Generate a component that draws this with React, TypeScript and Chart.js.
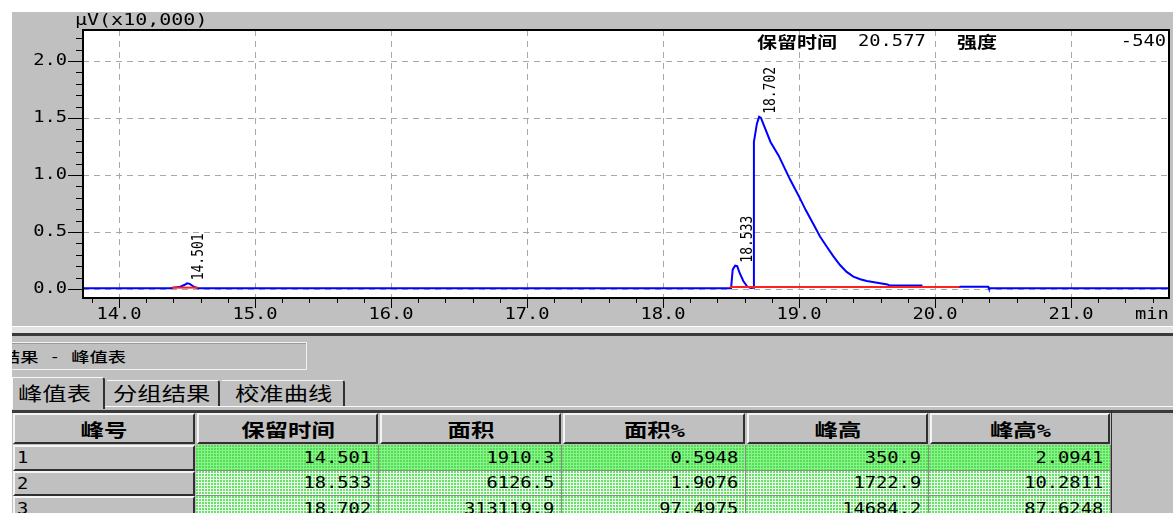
import React, { useEffect, useRef } from "react";
import { Chart, registerables } from "chart.js";

Chart.register(...registerables);

// Detector trace: retention time (min) and signal (µV ×10,000)
const traceTime = [
  13.735, 14.38, 14.4, 14.45, 14.48, 14.5, 14.52, 14.55, 14.58, 18.5, 18.512, 18.53, 18.545, 18.56,
  18.59, 18.62, 18.645, 18.663, 18.668, 18.69, 18.706, 18.72, 18.74, 18.79, 18.85, 18.934, 19.0,
  19.05, 19.105, 19.154, 19.204, 19.25, 19.301, 19.35, 19.399, 19.45, 19.498, 19.596, 19.65, 19.66,
  19.9, 19.905, 20.18, 20.185, 20.39, 20.395, 21.72,
];
const traceSignal = [
  0.006, 0.006, 0.012, 0.02, 0.035, 0.05, 0.045, 0.02, 0.006, 0.006, 0.17, 0.205, 0.2, 0.15,
  0.07, 0.02, 0.008, 0.01, 1.29, 1.45, 1.51, 1.5, 1.44, 1.29, 1.17, 0.96, 0.81,
  0.69, 0.57, 0.46, 0.37, 0.29, 0.21, 0.15, 0.108, 0.085, 0.07, 0.05, 0.04, 0.033,
  0.03, 0.017, 0.017, 0.02, 0.02, 0.006, 0.006,
];

// Integration baselines (red)
const baselineStart = [14.39, 18.49];
const baselineEnd = [14.58, 20.18];
const baselineLevel = [0.012, 0.018];

// Peak annotations
const peakTimes = [14.501, 18.533, 18.702];
const peakApex = [0.05, 0.205, 1.51];

// Axes
const xMajorTicks = [14, 15, 16, 17, 18, 19, 20, 21];
const yMajorTicks = [0, 0.5, 1, 1.5, 2];
const X_MIN = 13.735;
const X_MAX = 21.72;
const Y_MIN = -0.079;
const Y_MAX = 2.272;

// Cursor readout
const cursorTime = 20.577;
const cursorIntensity = -540;

// Peak table
const tableHeaders = ["峰号", "保留时间", "面积", "面积%", "峰高", "峰高%"];
const peakNo = [1, 2, 3];
const retTime = [14.501, 18.533, 18.702];
const area = [1910.3, 6126.5, 313119.9];
const areaPct = [0.5948, 1.9076, 97.4975];
const peakHeight = [350.9, 1722.9, 14684.2];
const heightPct = [2.0941, 10.2811, 87.6248];

const tabs = ["峰值表", "分组结果", "校准曲线"];

const MONO = "'DejaVu Sans Mono', 'Noto Sans CJK SC', monospace";
const CJK = "'Noto Sans CJK SC', 'DejaVu Sans', sans-serif";
const SX = 1.25;

function wideText(
  ctx: CanvasRenderingContext2D,
  text: string,
  x: number,
  y: number,
  font: string,
  align: "left" | "center" | "right" = "left",
  k = SX
) {
  ctx.save();
  ctx.font = font;
  ctx.fillStyle = "#000";
  ctx.textBaseline = "middle";
  ctx.textAlign = "left";
  const w = ctx.measureText(text).width * k;
  let x0 = x;
  if (align === "center") x0 = x - w / 2;
  if (align === "right") x0 = x - w;
  ctx.translate(x0, y);
  ctx.scale(k, 1);
  ctx.fillText(text, 0, 0);
  ctx.restore();
}

const framePlugin = {
  id: "chromFrame",
  beforeDatasetsDraw(chart: any) {
    const { ctx, chartArea: a } = chart;
    const xs = chart.scales.x;
    const ys = chart.scales.y;
    ctx.save();
    ctx.fillStyle = "#c0c0c0";
    ctx.fillRect(0, 0, chart.width, chart.height);
    ctx.fillStyle = "#ffffff";
    ctx.fillRect(a.left, a.top, a.right - a.left, a.bottom - a.top);
    ctx.strokeStyle = "#a8a8a8";
    ctx.lineWidth = 1;
    ctx.setLineDash([6, 5]);
    for (const v of yMajorTicks) {
      const y = Math.round(ys.getPixelForValue(v)) + 0.5;
      ctx.beginPath();
      ctx.moveTo(a.left, y);
      ctx.lineTo(a.right, y);
      ctx.stroke();
    }
    for (const v of xMajorTicks) {
      const x = Math.round(xs.getPixelForValue(v)) + 0.5;
      ctx.beginPath();
      ctx.moveTo(x, a.top);
      ctx.lineTo(x, a.bottom);
      ctx.stroke();
    }
    ctx.restore();
  },
  afterDatasetsDraw(chart: any) {
    const { ctx, chartArea: a } = chart;
    const xs = chart.scales.x;
    const ys = chart.scales.y;
    ctx.save();
    ctx.setLineDash([]);

    // plot frame
    ctx.strokeStyle = "#000";
    ctx.lineWidth = 2;
    ctx.strokeRect(a.left, a.top, a.right - a.left, a.bottom - a.top);

    // y ticks
    ctx.lineWidth = 1;
    for (let i = 0; i <= 22; i++) {
      const v = i / 10;
      const y = Math.round(ys.getPixelForValue(v)) + 0.5;
      const major = i % 5 === 0;
      ctx.beginPath();
      ctx.moveTo(a.left - (major ? 15 : 7), y);
      ctx.lineTo(a.left, y);
      ctx.stroke();
    }
    for (const v of yMajorTicks) {
      wideText(ctx, v.toFixed(1), a.left - 16, ys.getPixelForValue(v), `15px ${MONO}`, "right");
    }

    // x ticks
    for (let i = 69; i <= 108; i++) {
      const v = i / 5;
      const x = Math.round(xs.getPixelForValue(v)) + 0.5;
      const major = i % 5 === 0;
      ctx.beginPath();
      ctx.moveTo(x, a.bottom);
      ctx.lineTo(x, a.bottom + (major ? 10 : 5));
      ctx.stroke();
    }
    for (const v of xMajorTicks) {
      wideText(ctx, v.toFixed(1), xs.getPixelForValue(v), a.bottom + 17, `15px ${MONO}`, "center");
    }
    wideText(ctx, "min", a.right - 34, a.bottom + 17, `15px ${MONO}`, "left");

    // axis title
    wideText(ctx, "μV(x10,000)", a.left - 8, a.top - 9, `16px ${MONO}`, "left");

    // cursor readout
    const ry = a.top + 12;
    wideText(ctx, "保留时间", a.left + 674, ry, `600 16px ${CJK}`, "left");
    wideText(ctx, cursorTime.toFixed(3), a.left + 775, ry, `15px ${MONO}`, "left");
    wideText(ctx, "强度", a.left + 874, ry, `600 16px ${CJK}`, "left");
    wideText(ctx, String(cursorIntensity), a.right - 3, ry, `15px ${MONO}`, "right");

    // peak labels, rotated
    ctx.font = `13px ${MONO}`;
    ctx.fillStyle = "#000";
    peakTimes.forEach((t, i) => {
      const x = xs.getPixelForValue(t) + 12;
      const y = ys.getPixelForValue(peakApex[i]) - 3;
      ctx.save();
      ctx.translate(x, y);
      ctx.scale(SX, 1);
      ctx.rotate(-Math.PI / 2);
      ctx.textAlign = "left";
      ctx.textBaseline = "middle";
      ctx.fillText(t.toFixed(3), 0, 0);
      ctx.restore();
    });
    ctx.restore();
  },
};

function Wide({ k = SX, origin = "left", children, style }: any) {
  return (
    <span
      style={{
        display: "inline-block",
        whiteSpace: "nowrap",
        transform: `scaleX(${k})`,
        transformOrigin: `${origin} center`,
        ...style,
      }}
    >
      {children}
    </span>
  );
}

// dotted cell fill: a small green dot on every 3×3 pixel tile
const dotFill = (dot: string) => `radial-gradient(circle at 1px 1px, ${dot} 0.9px, transparent 1.2px)`;

const colX = [12, 196, 379, 562, 746, 929, 1111];
const rowY = [445, 471, 496, 522];

export default function App() {
  const canvasRef = useRef<HTMLCanvasElement | null>(null);

  useEffect(() => {
    const canvas = canvasRef.current;
    if (!canvas) return;
    const trace = traceTime.map((t, i) => ({ x: t, y: traceSignal[i] }));
    const baselines = baselineStart.map((s, i) => ({
      data: [
        { x: s, y: baselineLevel[i] },
        { x: baselineEnd[i], y: baselineLevel[i] },
      ],
      borderColor: "#ff2020",
      borderWidth: 2,
      pointRadius: 0,
      order: 0,
    }));
    const chart = new Chart(canvas, {
      type: "line",
      data: {
        datasets: [
          ...baselines,
          {
            data: trace,
            borderColor: "#0000ff",
            borderWidth: 2,
            pointRadius: 0,
            tension: 0,
            order: 1,
          },
        ],
      },
      options: {
        animation: false,
        responsive: false,
        devicePixelRatio: 1,
        layout: { padding: { left: 71, top: 18, right: 4, bottom: 27 } },
        scales: {
          x: { type: "linear", min: X_MIN, max: X_MAX, display: false },
          y: { type: "linear", min: Y_MIN, max: Y_MAX, display: false },
        },
        plugins: { legend: { display: false }, tooltip: { enabled: false } },
      },
      plugins: [framePlugin],
    } as any);
    return () => chart.destroy();
  }, []);

  const columns = [
    retTime.map((v) => v.toFixed(3)),
    area.map((v) => v.toFixed(1)),
    areaPct.map((v) => v.toFixed(4)),
    peakHeight.map((v) => v.toFixed(1)),
    heightPct.map((v) => v.toFixed(4)),
  ];

  const bevel = {
    boxSizing: "border-box" as const,
    background: "#c0c0c0",
    borderTop: "2px solid #f4f4f4",
    borderLeft: "2px solid #f4f4f4",
    borderRight: "2px solid #303030",
    borderBottom: "2px solid #303030",
  };

  return (
    <div
      style={{
        position: "fixed",
        left: 0,
        top: 0,
        width: 1173,
        height: 513,
        overflow: "hidden",
        background: "#fff",
      }}
    >
      <canvas
        ref={canvasRef}
        width={1161}
        height={313}
        style={{ position: "absolute", left: 12, top: 12, width: 1161, height: 313 }}
      />
      {/* lower panel */}
      <div style={{ position: "absolute", left: 12, top: 325, width: 1161, height: 188, background: "#c0c0c0" }} />
      <div style={{ position: "absolute", left: 12, top: 326, width: 1161, height: 7, background: "#e2e2e2", borderTop: "1px solid #fff", boxSizing: "border-box" }} />
      <div style={{ position: "absolute", left: 12, top: 333, width: 1161, height: 3, background: "#3a3a3a" }} />

      {/* result title box */}
      <div
        style={{
          position: "absolute",
          left: 12,
          top: 342,
          width: 295,
          height: 28,
          boxSizing: "border-box",
          borderTop: "1px solid #f2f2f2",
          borderRight: "1px solid #f2f2f2",
          borderBottom: "1px solid #f2f2f2",
          boxShadow: "inset 0 1px 0 #9a9a9a",
          overflow: "hidden",
        }}
      >
        <div style={{ position: "absolute", left: -10, top: 0, height: 26, display: "flex", alignItems: "center" }}>
          <Wide k={1.3} style={{ font: `500 14px ${MONO}`, color: "#000" }}>
            结果 - 峰值表
          </Wide>
        </div>
      </div>

      {/* tabs */}
      {tabs.map((t, i) => {
        const left = [12, 107, 222][i];
        const right = [105, 220, 345][i];
        const top = i === 0 ? 377 : 380;
        return (
          <div
            key={t}
            style={{
              position: "absolute",
              left,
              top,
              width: right - left,
              height: (i === 0 ? 409 : 406) - top,
              boxSizing: "border-box",
              borderTop: "1px solid #f8f8f8",
              borderLeft: i === 0 ? "1px solid #f8f8f8" : "none",
              borderRight: "2px solid #303030",
              borderTopRightRadius: 3,
              background: "#c0c0c0",
              display: "flex",
              alignItems: "center",
              paddingLeft: [5, 6, 13][i],
              zIndex: 2,
            }}
          >
            <Wide k={1.28} style={{ font: `19px ${CJK}`, color: "#000", marginTop: -2 }}>
              {t}
            </Wide>
          </div>
        );
      })}
      <div style={{ position: "absolute", left: 105, top: 406, width: 1068, height: 1, background: "#fafafa" }} />
      <div style={{ position: "absolute", left: 12, top: 410, width: 1161, height: 3, background: "#3a3a3a" }} />

      {/* table header */}
      {tableHeaders.map((h, i) => (
        <div
          key={h}
          style={{
            ...bevel,
            position: "absolute",
            left: colX[i] + 1,
            top: 413,
            width: colX[i + 1] - colX[i] - 2,
            height: 31,
            display: "flex",
            alignItems: "center",
            justifyContent: "center",
          }}
        >
          <Wide k={1.3} origin="center" style={{ font: `700 18px ${MONO}`, color: "#000" }}>
            {h}
          </Wide>
        </div>
      ))}
      <div style={{ position: "absolute", left: 1111, top: 410, width: 1, height: 103, background: "#303030" }} />

      {/* table rows */}
      {peakNo.map((n, r) => {
        const top = rowY[r];
        const h = rowY[r + 1] - top;
        const selected = r === 0;
        return (
          <React.Fragment key={n}>
            <div
              style={{
                ...bevel,
                position: "absolute",
                left: colX[0] + 1,
                top,
                width: colX[1] - colX[0] - 2,
                height: h,
                display: "flex",
                alignItems: "center",
                paddingLeft: 2,
              }}
            >
              <Wide style={{ font: `15px ${MONO}`, color: "#000" }}>{String(n)}</Wide>
            </div>
            {columns.map((col, c) => (
              <div
                key={c}
                style={{
                  position: "absolute",
                  left: colX[c + 1],
                  top,
                  width: colX[c + 2] - colX[c + 1],
                  height: h,
                  boxSizing: "border-box",
                  backgroundColor: selected ? "#84f884" : "#eefcee",
                  backgroundImage: dotFill(selected ? "#5cd85c" : "#64e464"),
                  backgroundSize: "3px 3px",
                  borderRight: "1px solid #8c8c8c",
                  borderBottom: "1px solid #8c8c8c",
                  display: "flex",
                  alignItems: "center",
                  justifyContent: "flex-end",
                  paddingRight: 7,
                }}
              >
                <Wide origin="right" style={{ font: `15px ${MONO}`, color: "#000" }}>
                  {col[r]}
                </Wide>
              </div>
            ))}
          </React.Fragment>
        );
      })}
    </div>
  );
}
